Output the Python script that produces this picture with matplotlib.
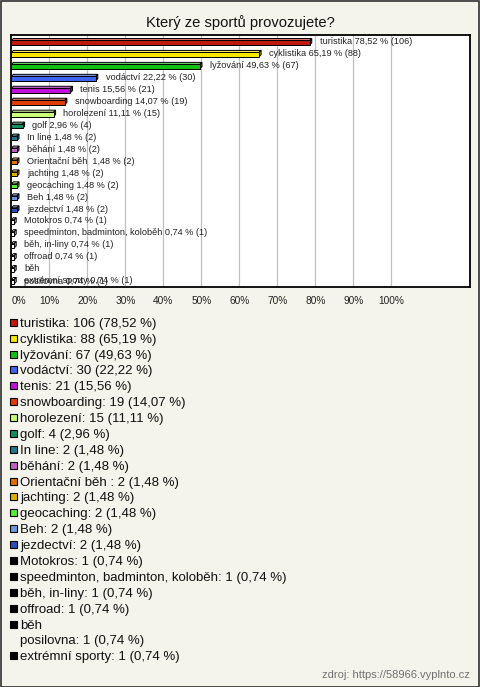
import matplotlib
matplotlib.use("Agg")
import matplotlib.pyplot as plt
from matplotlib.patches import Polygon, Rectangle
import matplotlib.colors as mcolors

plt.rcParams['font.family'] = ['Liberation Sans', 'DejaVu Sans']

title = "Který ze sportů provozujete?"
categories = ["turistika", "cyklistika", "lyžování", "vodáctví", "tenis", "snowboarding",
              "horolezení", "golf", "In line", "běhání", "Orientační běh ", "jachting",
              "geocaching", "Beh", "jezdectví", "Motokros",
              "speedminton, badminton, koloběh", "běh, in-liny", "offroad",
              "běh\nposilovna", "extrémní sporty"]
counts = [106, 88, 67, 30, 21, 19, 15, 4, 2, 2, 2, 2, 2, 2, 2, 1, 1, 1, 1, 1, 1]
percents = [78.52, 65.19, 49.63, 22.22, 15.56, 14.07, 11.11, 2.96, 1.48, 1.48, 1.48,
            1.48, 1.48, 1.48, 1.48, 0.74, 0.74, 0.74, 0.74, 0.74, 0.74]
colors = ["#c0180c", "#f8e800", "#10c010", "#3c64f0", "#c010d8", "#e03c08", "#c8ff78",
          "#109060", "#1e7890", "#c060c0", "#e07000", "#e0b000", "#50f030", "#6898e0",
          "#2850b8"] + ["#000000"] * 6
bar_colors = colors[:15] + ["#ffffff"] * 6
xticks = [0, 10, 20, 30, 40, 50, 60, 70, 80, 90, 100]
source = "zdroj: https://58966.vyplnto.cz"

W, H = 480, 687
bg = "#f4f3ec"
fig = plt.figure(figsize=(W / 100, H / 100), dpi=100, facecolor=bg)

def fx(px):
    return px / W

def fy(py):
    return 1 - py / H

# outer border
fig.patches.append(Rectangle((0.5 / W, 0.5 / H), 1 - 1.5 / W, 1 - 1.5 / H,
                             transform=fig.transFigure, fill=False,
                             edgecolor="#303030", linewidth=1.2))

fig.text(fx(240), fy(21), title, ha="center", va="center_baseline", fontsize=10.6, color="#111111")

left, right, top, bottom = 11.3, 470, 35, 286.7
ax = fig.add_axes([fx(left), fy(bottom), fx(right - left), (bottom - top) / H])
ax.set_facecolor("white")
ax.set_xlim(0, (right - left) / 3.8)
n = len(categories)
ax.set_ylim(20.5, -0.56)
for s in ax.spines.values():
    s.set_linewidth(1.3)
    s.set_color("black")
ax.set_yticks([])
ax.set_xticks(xticks)
ax.set_xticklabels([f"{t}%" for t in xticks], fontsize=7.3, color="#222222")
ax.tick_params(axis="x", length=0, pad=6.5)
ax.get_xticklabels()[0].set_ha("left")
for t in xticks[1:]:
    ax.axvline(t, color="#c0c0c0", linewidth=0.9, zorder=0)

h = 0.36
dx = 0.55
dy = 0.17
for i, (v, c) in enumerate(zip(percents, bar_colors)):
    y0 = i - h / 2 + 0.08
    y1 = i + h / 2 + 0.08
    rgb = mcolors.to_rgb(c)
    light = tuple(min(1, x * 0.6 + 0.4) for x in rgb)
    dark = tuple(x * 0.7 for x in rgb)
    top_face = Polygon([(0, y0), (dx, y0 - dy), (v + dx, y0 - dy), (v, y0)], closed=True,
                       facecolor=light, edgecolor="black", linewidth=0.7, zorder=3)
    side_face = Polygon([(v, y0), (v + dx, y0 - dy), (v + dx, y1 - dy), (v, y1)], closed=True,
                        facecolor=dark, edgecolor="black", linewidth=0.7, zorder=3)
    front = Rectangle((0, y0), v, y1 - y0, facecolor=c, edgecolor="black",
                      linewidth=0.7, zorder=4)
    ax.add_patch(top_face)
    ax.add_patch(side_face)
    ax.add_patch(front)
    pct = f"{v:.2f}".replace(".", ",")
    label = f"{categories[i]} {pct} % ({counts[i]})"
    if "\n" in categories[i]:
        ax.text(v + 2.6, i - 0.42, label, ha="left", va="top", fontsize=6.6,
                color="#222222", linespacing=1.55, zorder=5)
    else:
        ax.text(v + 2.6, i, label, ha="left", va="center", fontsize=6.6,
                color="#222222", zorder=5)

# legend
line_h = 15.88
yy = 322.3
for i in range(n):
    fig.patches.append(Rectangle((fx(10), fy(yy + 3.5)), 7 / W, 7 / H,
                                 transform=fig.transFigure, facecolor=colors[i],
                                 edgecolor="black", linewidth=0.8))
    pct = f"{percents[i]:.2f}".replace(".", ",")
    txt = f"{categories[i]}: {counts[i]} ({pct} %)"
    lines = txt.split("\n")
    for ln in lines:
        fig.text(fx(20), fy(yy), ln, ha="left", va="center_baseline", fontsize=9.5,
                 color="#111111")
        yy += line_h

fig.text(fx(470), fy(674), source, ha="right", va="center_baseline", fontsize=8, color="#707070")

fig.savefig("out.png", dpi=100, facecolor=bg)
